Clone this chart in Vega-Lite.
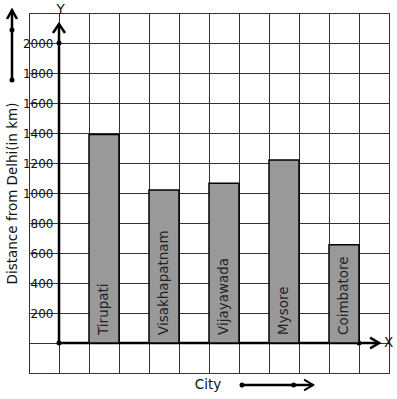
{
  "$schema": "https://vega.github.io/schema/vega-lite/v6.json",
  "width": 360,
  "height": 360,
  "autosize": "none",
  "padding": {"left": 29, "top": 13, "right": 8, "bottom": 26},
  "background": "white",
  "config": {
    "view": {"stroke": "#333", "strokeWidth": 1},
    "font": "DejaVu Sans"
  },
  "data": {
    "values": [
      {"city": "Tirupati", "distance": 1390},
      {"city": "Visakhapatnam", "distance": 1020},
      {"city": "Vijayawada", "distance": 1065},
      {"city": "Mysore", "distance": 1220},
      {"city": "Coimbatore", "distance": 655}
    ]
  },
  "layer": [
    {
      "data": {"values": [{}]},
      "layer": [
        {
          "mark": {"type": "rule", "strokeWidth": 2.5, "color": "black"},
          "encoding": {
            "x": {"datum": 0, "type": "quantitative", "scale": {"domain": [-1, 11], "nice": false, "zero": false},
              "axis": {"values": [-1,0,1,2,3,4,5,6,7,8,9,10,11], "tickCount": 30, "grid": true, "gridColor": "#333", "gridOpacity": 1, "gridWidth": 1, "labels": false, "ticks": false, "domain": false, "title": null, "labelOverlap": false}},
            "y": {"datum": 0, "type": "quantitative", "scale": {"domain": [-200, 2200], "nice": false, "zero": false},
              "axis": {"values": [-200,0,200,400,600,800,1000,1200,1400,1600,1800,2000,2200], "tickCount": 30, "format": "d", "labelOverlap": false, "labelBound": false, "offset": -30, "grid": true, "gridColor": "#333", "gridOpacity": 1, "gridWidth": 1, "domain": false, "ticks": true, "tickColor": "#333", "tickSize": 5, "tickWidth": 1,
                "labelExpr": "datum.value >= 200 && datum.value <= 2000 ? datum.label : ''", "labelFontSize": 12, "labelColor": "#111", "labelPadding": 1, "labelFont": "DejaVu Sans",
                "title": "Distance from Delhi(in km)", "titleFontSize": 13.5, "titleFontWeight": "normal", "titleColor": "#111", "titleFont": "DejaVu Sans", "titleX": -47, "titleY": 180, "titleAngle": -90, "titleAlign": "center", "titleBaseline": "middle"}},
            "y2": {"datum": 2127}
          }
        },
        {
          "mark": {"type": "rule", "strokeWidth": 2.5, "color": "black"},
          "encoding": {
            "x": {"datum": 0, "type": "quantitative"},
            "x2": {"datum": 10.67},
            "y": {"datum": 0, "type": "quantitative"}
          }
        },
        {
          "mark": {"type": "point", "shape": "M-0.67,1L0,0L0.67,1", "filled": false, "stroke": "black", "strokeWidth": 2.5, "size": 324, "opacity": 1},
          "encoding": {"x": {"datum": 0, "type": "quantitative"}, "y": {"datum": 2127, "type": "quantitative"}}
        },
        {
          "mark": {"type": "point", "shape": "M-1,-0.6L0,0L-1,0.6", "filled": false, "stroke": "black", "strokeWidth": 2.5, "size": 324, "opacity": 1},
          "encoding": {"x": {"datum": 10.67, "type": "quantitative"}, "y": {"datum": 0, "type": "quantitative"}}
        },
        {
          "mark": {"type": "circle", "color": "black", "size": 25, "opacity": 1},
          "encoding": {"x": {"datum": 0, "type": "quantitative"}, "y": {"datum": 0, "type": "quantitative"}}
        },
        {
          "mark": {"type": "circle", "color": "black", "size": 25, "opacity": 1},
          "encoding": {"x": {"datum": 0, "type": "quantitative"}, "y": {"datum": 2000, "type": "quantitative"}}
        },
        {
          "mark": {"type": "circle", "color": "black", "size": 25, "opacity": 1},
          "encoding": {"x": {"datum": 10, "type": "quantitative"}, "y": {"datum": 0, "type": "quantitative"}}
        },
        {
          "mark": {"type": "rule", "strokeWidth": 2.5, "color": "black"},
          "encoding": {
            "x": {"datum": -1.567, "type": "quantitative"},
            "y": {"datum": 1753, "type": "quantitative"},
            "y2": {"datum": 2220}
          }
        },
        {
          "mark": {"type": "point", "shape": "M-0.55,1L0,0L0.55,1", "filled": false, "stroke": "black", "strokeWidth": 2.5, "size": 324, "opacity": 1},
          "encoding": {"x": {"datum": -1.567, "type": "quantitative"}, "y": {"datum": 2220, "type": "quantitative"}}
        },
        {
          "mark": {"type": "circle", "color": "black", "size": 25, "opacity": 1},
          "encoding": {"x": {"datum": -1.567, "type": "quantitative"}, "y": {"datum": 2087, "type": "quantitative"}}
        },
        {
          "mark": {"type": "circle", "color": "black", "size": 25, "opacity": 1},
          "encoding": {"x": {"datum": -1.567, "type": "quantitative"}, "y": {"datum": 1753, "type": "quantitative"}}
        },
        {
          "mark": {"type": "rule", "strokeWidth": 2.5, "color": "black"},
          "encoding": {
            "x": {"datum": 6.1, "type": "quantitative"},
            "x2": {"datum": 8.47},
            "y": {"datum": -280, "type": "quantitative"}
          }
        },
        {
          "mark": {"type": "point", "shape": "M-1,-0.6L0,0L-1,0.6", "filled": false, "stroke": "black", "strokeWidth": 2, "size": 324, "opacity": 1},
          "encoding": {"x": {"datum": 8.47, "type": "quantitative"}, "y": {"datum": -280, "type": "quantitative"}}
        },
        {
          "mark": {"type": "circle", "color": "black", "size": 25, "opacity": 1},
          "encoding": {"x": {"datum": 6.1, "type": "quantitative"}, "y": {"datum": -280, "type": "quantitative"}}
        },
        {
          "mark": {"type": "circle", "color": "black", "size": 25, "opacity": 1},
          "encoding": {"x": {"datum": 7.82, "type": "quantitative"}, "y": {"datum": -280, "type": "quantitative"}}
        },
        {
          "mark": {"type": "text", "text": "X", "align": "left", "baseline": "middle", "fontSize": 13.5, "color": "#111", "font": "DejaVu Sans"},
          "encoding": {"x": {"datum": 10.83, "type": "quantitative"}, "y": {"datum": 0, "type": "quantitative"}}
        },
        {
          "mark": {"type": "text", "text": "Y", "align": "center", "baseline": "middle", "fontSize": 13.5, "color": "#111", "font": "DejaVu Sans"},
          "encoding": {"x": {"datum": 0.05, "type": "quantitative"}, "y": {"datum": 2220, "type": "quantitative"}}
        },
        {
          "mark": {"type": "text", "text": "City", "align": "center", "baseline": "middle", "fontSize": 13.5, "color": "#111", "font": "DejaVu Sans"},
          "encoding": {"x": {"datum": 4.97, "type": "quantitative"}, "y": {"datum": -280, "type": "quantitative"}}
        }
      ]
    },
    {
      "layer": [
        {
          "mark": {"type": "bar", "fill": "#999999", "stroke": "black", "strokeWidth": 1.5},
          "encoding": {
            "x": {"field": "city", "type": "nominal", "sort": null,
              "scale": {"domain": ["_a", "_b", "Tirupati", "_c", "Visakhapatnam", "_d", "Vijayawada", "_e", "Mysore", "_f", "Coimbatore", "_g"], "paddingInner": 0, "paddingOuter": 0},
              "axis": null},
            "y": {"field": "distance", "type": "quantitative", "title": "Distance from Delhi(in km)"}
          }
        },
        {
          "mark": {"type": "text", "angle": 270, "align": "left", "baseline": "middle", "dx": 8, "fontSize": 13.5, "color": "#222", "font": "DejaVu Sans"},
          "encoding": {
            "x": {"field": "city", "type": "nominal", "sort": null,
              "scale": {"domain": ["_a", "_b", "Tirupati", "_c", "Visakhapatnam", "_d", "Vijayawada", "_e", "Mysore", "_f", "Coimbatore", "_g"], "paddingInner": 0, "paddingOuter": 0},
              "axis": null},
            "y": {"datum": 0, "type": "quantitative"},
            "text": {"field": "city"}
          }
        }
      ]
    }
  ],
  "resolve": {"scale": {"x": "independent"}}
}
